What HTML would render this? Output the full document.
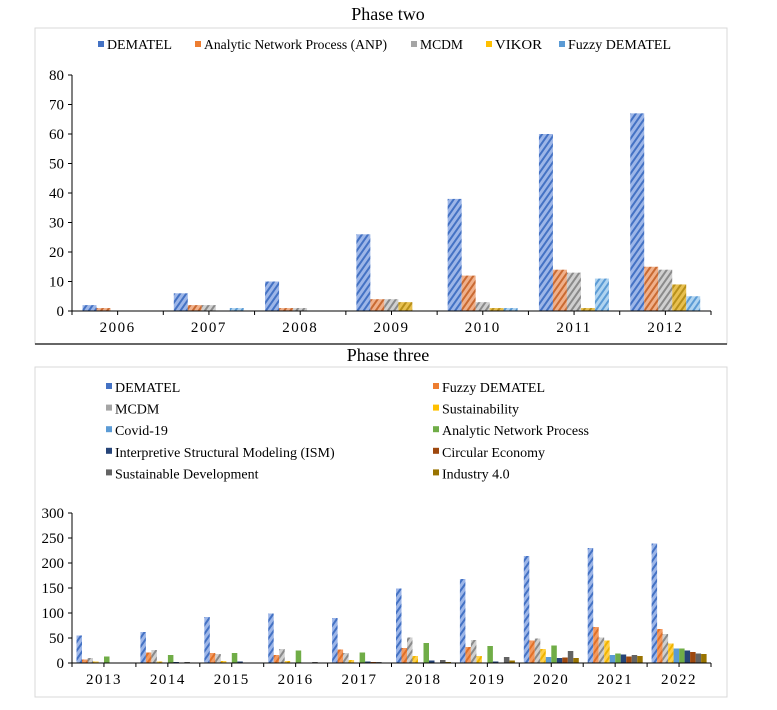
<!DOCTYPE html>
<html><head><meta charset="utf-8"><style>
body{margin:0;background:#fff;}
svg{display:block;font-family:"Liberation Serif",serif;}
</style></head><body>
<svg id="s" width="777" height="710">
<defs>
<pattern id="hb" patternUnits="userSpaceOnUse" width="5" height="5" patternTransform="rotate(35)"><rect width="5" height="5" fill="#9db6e8"/><rect width="2" height="5" fill="#4472c4"/></pattern>
<pattern id="ho" patternUnits="userSpaceOnUse" width="5" height="5" patternTransform="rotate(35)"><rect width="5" height="5" fill="#f0b08a"/><rect width="2" height="5" fill="#c96a32"/></pattern>
<pattern id="hg" patternUnits="userSpaceOnUse" width="5" height="5" patternTransform="rotate(35)"><rect width="5" height="5" fill="#d0d0d0"/><rect width="2" height="5" fill="#8a8a8a"/></pattern>
<pattern id="hy" patternUnits="userSpaceOnUse" width="5" height="5" patternTransform="rotate(35)"><rect width="5" height="5" fill="#e8c050"/><rect width="2" height="5" fill="#b8901a"/></pattern>
<pattern id="hl" patternUnits="userSpaceOnUse" width="5" height="5" patternTransform="rotate(35)"><rect width="5" height="5" fill="#b0d4f0"/><rect width="2" height="5" fill="#5b9bd5"/></pattern>
<pattern id="ho2" patternUnits="userSpaceOnUse" width="5" height="5" patternTransform="rotate(35)"><rect width="5" height="5" fill="#f39a60"/><rect width="2" height="5" fill="#e07028"/></pattern>
<pattern id="hy2" patternUnits="userSpaceOnUse" width="5" height="5" patternTransform="rotate(35)"><rect width="5" height="5" fill="#ffd04a"/><rect width="2" height="5" fill="#f0b400"/></pattern>
</defs>
<text x="388" y="20" text-anchor="middle" font-size="18">Phase two</text>
<rect x="35" y="28" width="692" height="316" fill="none" stroke="#d9d9d9"/>
<line x1="35" y1="344" x2="727" y2="344" stroke="#333" stroke-width="1.5"/>
<text x="388" y="361" text-anchor="middle" font-size="18">Phase three</text>
<rect x="35" y="367" width="692" height="330" fill="none" stroke="#d9d9d9"/>
<g id="top"></g><g id="bot"></g>
</svg>
<script>
const topCats=["2006","2007","2008","2009","2010","2011","2012"];
const topSeries=["DEMATEL","Analytic Network Process (ANP)","MCDM","VIKOR","Fuzzy DEMATEL"];
const topDematel=[2,6,10,26,38,60,67];
const topAnp=[1,2,1,4,12,14,15];
const topMcdm=[0,2,1,4,3,13,14];
const topVikor=[0,0,0,3,1,1,9];
const topFuzzy=[0,1,0,0,1,11,5];
const topTicks=[0,10,20,30,40,50,60,70,80];

const botCats=["2013","2014","2015","2016","2017","2018","2019","2020","2021","2022"];
const botSeries=["DEMATEL","Fuzzy DEMATEL","MCDM","Sustainability","Covid-19","Analytic Network Process","Interpretive Structural Modeling (ISM)","Circular Economy","Sustainable Development","Industry 4.0"];
const bDematel=[55,62,92,99,90,149,168,214,230,239];
const bFuzzy=[7,21,20,16,27,30,32,45,72,68];
const bMcdm=[10,26,18,28,20,51,46,49,51,58];
const bSust=[3,3,4,4,6,14,14,28,45,39];
const bCovid=[0,0,0,0,0,0,0,12,16,29];
const bAnp=[13,16,20,25,21,40,34,35,19,29];
const bIsm=[1,2,3,1,3,5,3,10,17,25];
const bCe=[1,1,1,0,2,1,1,11,13,22];
const bSd=[1,2,1,2,2,6,12,24,16,19];
const bInd=[1,1,0,1,1,2,5,10,14,18];
const botTicks=[0,50,100,150,200,250,300];

const NS="http://www.w3.org/2000/svg";
function mk(p,t,a){const e=document.createElementNS(NS,t);for(const k in a)e.setAttribute(k,a[k]);p.appendChild(e);return e;}

function chart(g,cats,data,fills,ticks,x0,x1,y0,y1,barW,gapOff,fs){
  const max=ticks[ticks.length-1];
  const ys=v=>y0-(v/max)*(y0-y1);
  const cw=(x1-x0)/cats.length;
  const ax=mk(g,'line',{x1:x0,y1:y0,x2:x0,y2:y1,stroke:'#000'});
  
  ticks.forEach(t=>{
    mk(g,'line',{x1:x0-4,x2:x0,y1:ys(t),y2:ys(t),stroke:'#000'});
    const tx=mk(g,'text',{x:x0-8,y:ys(t)+5,'text-anchor':'end','font-size':fs});tx.textContent=t;
    
  });
  cats.forEach((c,i)=>{
    const cx=x0+cw*i;
    mk(g,'line',{x1:cx,x2:cx,y1:y0,y2:y0+4,stroke:'#000'});
    mk(g,'line',{x1:cx+cw/2,x2:cx+cw/2,y1:y0,y2:y0+4,stroke:'#000'});
    const tx=mk(g,'text',{x:cx+cw/2,y:y0+21,'text-anchor':'middle','font-size':fs,'letter-spacing':'1.5'});tx.textContent=c;
    
    data.forEach((arr,j)=>{
      const v=arr[i];if(v<=0)return;
      const r=mk(g,'rect',{x:cx+gapOff+j*barW,y:ys(v),width:barW,height:y0-ys(v),fill:fills[j]});
      
      
    });
  });
  mk(g,'line',{x1:x1,x2:x1,y1:y0,y2:y0+4,stroke:'#000'});
  const xa=mk(g,'line',{x1:x0,y1:y0,x2:x1,y2:y0,stroke:'#000'});
  
}

const tg=document.getElementById('top');
chart(tg,topCats,[topDematel,topAnp,topMcdm,topVikor,topFuzzy],['url(#hb)','url(#ho)','url(#hg)','url(#hy)','url(#hl)'],topTicks,72,711,311,75,14,10.5,15);
const tlx=[98,195,411,486,559],tlw=[65,183,43,47,103],tlc=['#4472c4','#ed7d31','#a5a5a5','#ffc000','#5b9bd5'];
topSeries.forEach((s,i)=>{
  mk(tg,'rect',{x:tlx[i],y:41,width:6,height:6,fill:tlc[i]});
  const t=mk(tg,'text',{x:tlx[i]+9,y:49,'font-size':14,textLength:tlw[i],lengthAdjust:'spacingAndGlyphs'});t.textContent=s;
  
});

const bg=document.getElementById('bot');
const bcol=['url(#hb)','url(#ho2)','url(#hg)','url(#hy2)','#5b9bd5','#70ad47','#264478','#9e480e','#636363','#997300'];
const bcolL=['#4472c4','#ed7d31','#a5a5a5','#ffc000','#5b9bd5','#70ad47','#264478','#9e480e','#636363','#997300'];
chart(bg,botCats,[bDematel,bFuzzy,bMcdm,bSust,bCovid,bAnp,bIsm,bCe,bSd,bInd],bcol,botTicks,72,711,663,513,5.5,4.5,15);
botSeries.forEach((s,i)=>{
  const col=i%2,row=Math.floor(i/2);
  const x=col?433:106,y=387+row*21.6;
  mk(bg,'rect',{x:x,y:y-4,width:6,height:6,fill:bcolL[i]});
  const t=mk(bg,'text',{x:x+9,y:y+5,'font-size':14});t.textContent=s;
  
});
</script>
</body></html>
